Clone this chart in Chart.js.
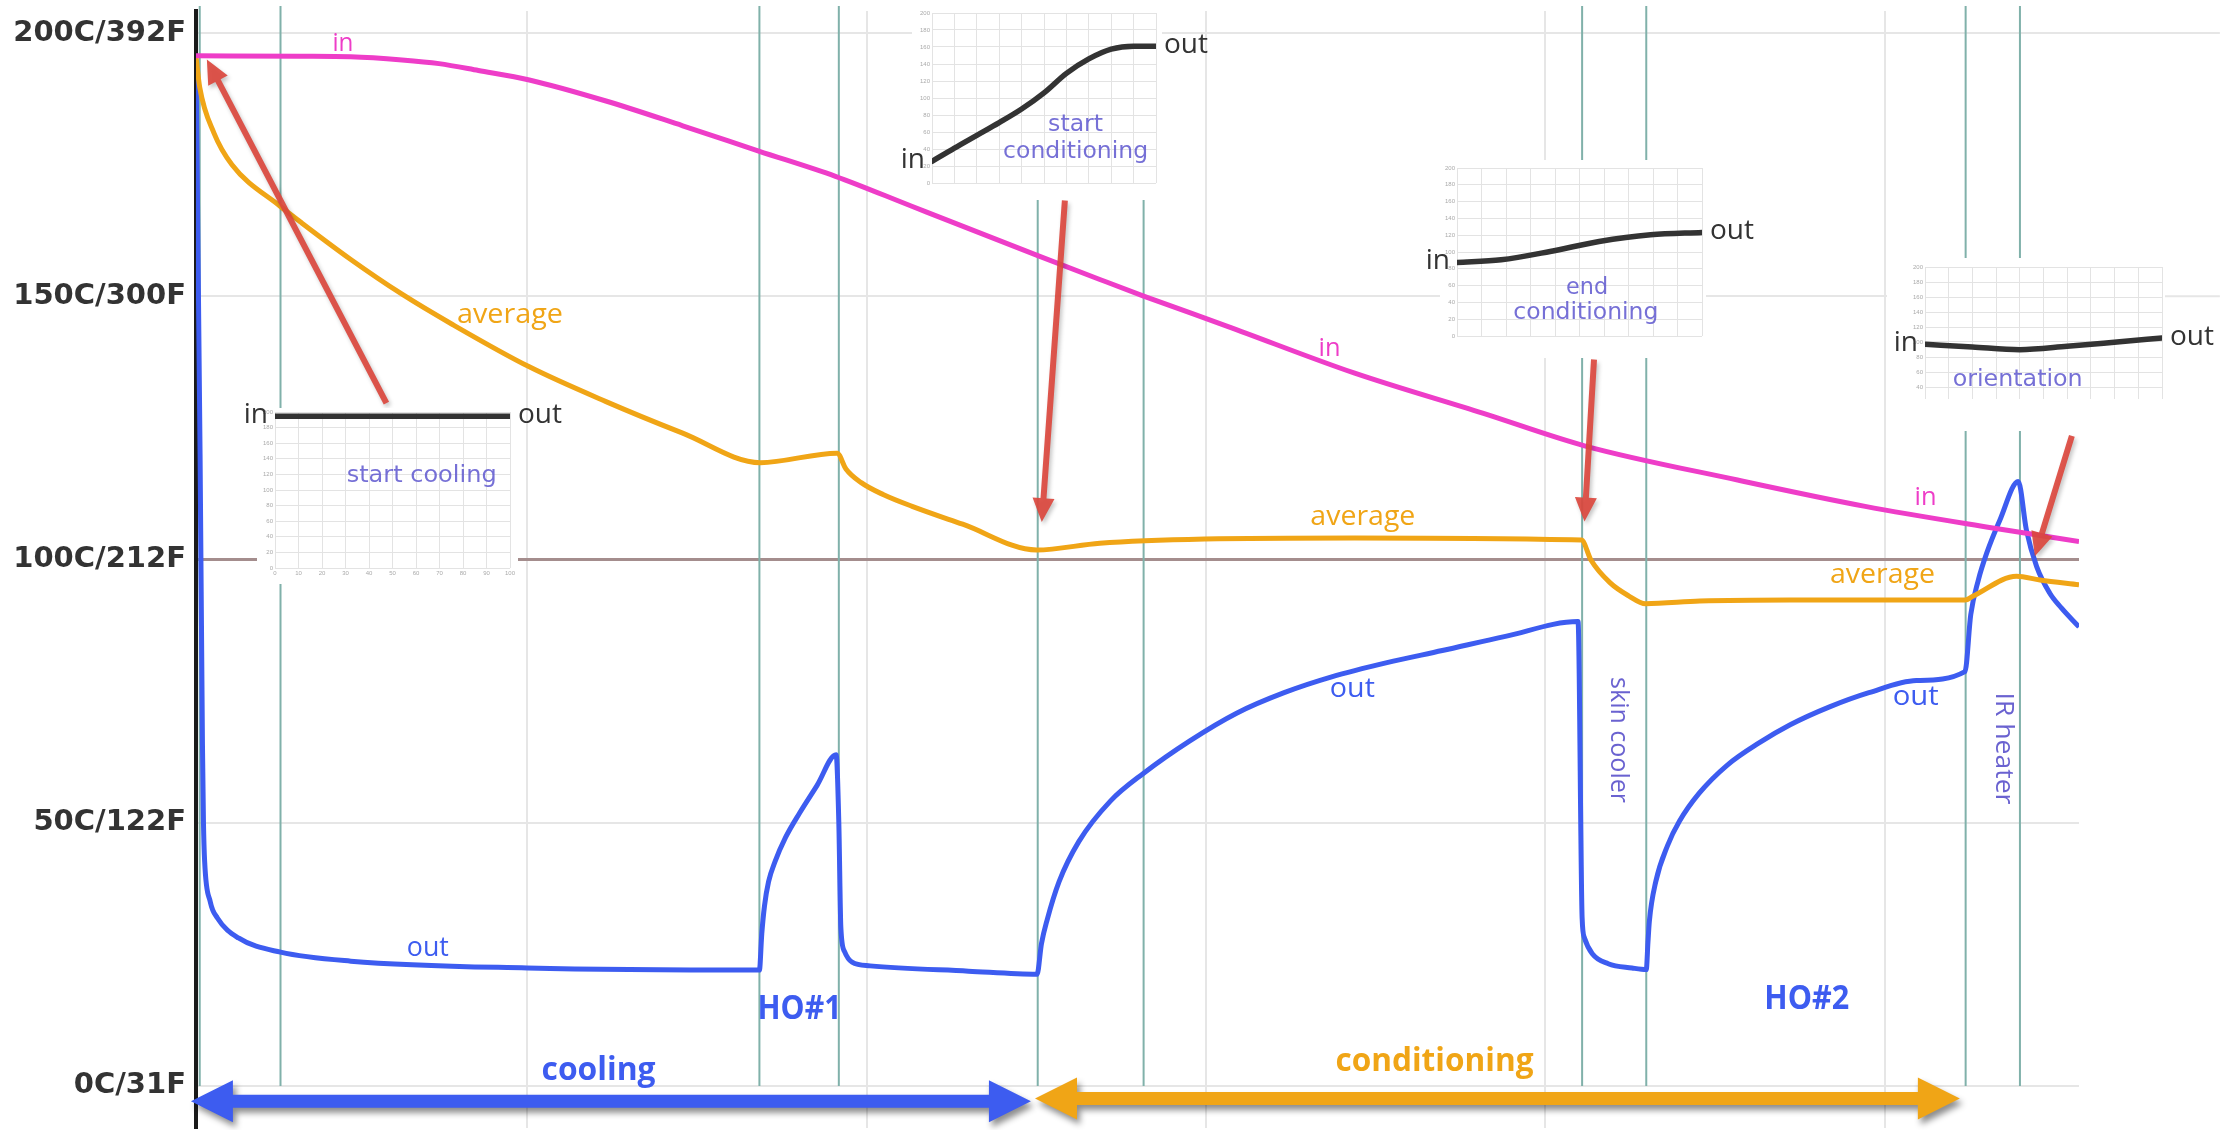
<!DOCTYPE html>
<html><head><meta charset="utf-8">
<script src="https://cdn.jsdelivr.net/npm/chart.js@4.4.1/dist/chart.umd.min.js"></script>
<style>
html,body{margin:0;padding:0;background:#fff;}
#wrap{position:relative;width:2239px;height:1130px;overflow:hidden;background:#fff;}
#main{position:absolute;left:0;top:0;}
.inset{position:absolute;}
</style></head><body>
<div id="wrap">
<canvas id="main" width="2239" height="1130"></canvas>
<canvas id="ins1" class="inset"></canvas>
<canvas id="ins2" class="inset"></canvas>
<canvas id="ins3" class="inset"></canvas>
<canvas id="ins4" class="inset"></canvas>
</div>
<script>
// ---------- data ----------
const yTickValues = [0, 50, 100, 150, 200];
const yTickLabels = ["0C/31F", "50C/122F", "100C/212F", "150C/300F", "200C/392F"];
const xGridValues = [100, 200, 300, 400, 500];
const eventLines = [3.5, 27.3, 168.4, 191.8, 250.4, 281.6, 410.8, 429.7, 523.8, 539.8];

const inX    = [2.4, 33, 48, 63.1, 74, 85.6, 100.6, 123.2, 145.8, 168.2, 190.8, 213.3, 251, 268.7, 281.8, 306.3, 343.8, 381.5, 411.5, 456.6, 494.2, 531.8, 557.2];
const inTemp = [195.7, 195.6, 195.5, 194.9, 194.2, 192.9, 191.1, 187.1, 182.4, 177.6, 172.8, 167.1, 157.6, 153.2, 150.0, 144.3, 135.4, 127.8, 121.6, 115.1, 110.1, 106.0, 103.4];

const avgX    = [2.4, 3.5, 7.7, 13, 27.2, 33, 48, 63.1, 78.1, 100.6, 123.2, 145.8, 168.7, 191.3, 193.9, 198.4, 205, 213.4, 228.3, 250.1, 268.7, 299.6, 343.8, 410.6, 413.4, 419, 424.5, 429.5, 445.5, 472, 523.7, 525.9, 538.8, 545.7, 557.2];
const avgTemp = [195.5, 189.7, 181, 175, 167.1, 164.2, 157, 150.4, 144.6, 136.6, 130, 124.0, 118.4, 120.2, 117.2, 114.6, 112.3, 110.1, 106.7, 101.8, 103.1, 103.9, 104.1, 103.7, 99.9, 95.6, 93.1, 91.6, 92.1, 92.3, 92.3, 93, 96.8, 96.1, 95.2];

const outX    = [2.4, 3.6, 4.3, 4.6, 4.95, 6.6, 8.7, 14.9, 27.3, 48, 100, 168.4,
                 169.1, 169.9, 171.1, 173, 176.1, 180.2, 185.4, 191, 191.8, 192.4, 193.5, 195.7, 201, 230, 250.2,
                 251.5, 253.2, 256.7, 262.5, 271.8, 281.6, 295.1, 309, 323, 337, 353.3, 369.6, 388.2, 409.6,
                 410.8, 411.5, 413.8, 418.5, 425.5, 429.7,
                 430.2, 430.6, 432.5, 436, 439.5, 445.3, 453.5, 462.8, 472.1, 483.7, 495.3, 509.3, 523.6,
                 525.3, 527.5, 530, 533.9, 539.3, 541.7, 544.7, 548.6, 552, 557.2];
const outTemp = [195, 120, 65, 50, 42.6, 35, 31.9, 28.1, 25.4, 23.7, 22.4, 22.0,
                 28.9, 34.2, 38.8, 42.6, 47.2, 51.8, 57.1, 62.9, 50, 30, 25.5, 23.5, 22.8, 21.8, 21.2,
                 27, 31.6, 38.8, 46.4, 54.1, 59.4, 65.5, 70.8, 74.7, 77.7, 80.4, 82.7, 85.4, 88.2,
                 31.9, 28.1, 25.1, 23.2, 22.4, 22.1,
                 27.3, 31.2, 38.8, 45.7, 50.3, 55.6, 60.9, 65.1, 68.6, 72, 74.7, 77, 78.7,
                 89.5, 96, 101.2, 107.5, 114.8, 105.6, 98.7, 93.6, 90.8, 87.2];

// mini profile charts (position across the sheet 0..100, temperature)
const coolProfX = [0, 100];
const coolProfY = [194.4, 194.4];
const startCondX = [0, 10, 20, 30, 40, 50, 60, 70, 80, 90, 100];
const startCondY = [25.4, 41, 56, 71, 87, 106, 129, 146, 157.5, 161, 161];
const endCondX = [0, 18, 38, 58, 79, 100];
const endCondY = [87.5, 90.7, 100.6, 112.5, 120.5, 123.3];
const orientX = [0, 20, 40, 60, 81, 100];
const orientY = [96.9, 93.3, 89.8, 94.3, 100, 105.3];

// ---------- styles / annotations ----------
const PINK = '#EE3DC8', ORANGE = '#F0A516', BLUE = '#3D5CF0', PURPLE = 'rgba(80,70,200,0.85)';
const gridExtendTo = 598.7;
const textLabels = [
  {t:'in', x:45.7, y:196.6, size:26, w:21, c:PINK},
  {t:'average', x:94.9, y:144.9, size:28, w:106, c:ORANGE},
  {t:'in', x:336.4, y:138.6, size:26, w:22, c:PINK},
  {t:'average', x:346.2, y:106.6, size:28, w:105, c:ORANGE},
  {t:'out', x:70.7, y:24.7, size:28, w:42, c:BLUE},
  {t:'out', x:343.1, y:73.8, size:28, w:45, c:BLUE},
  {t:'in', x:512, y:110.4, size:26, w:22, c:PINK},
  {t:'average', x:499.3, y:95.5, size:28, w:105, c:ORANGE},
  {t:'out', x:509.1, y:72.4, size:28, w:46, c:BLUE},
  {t:'HO#1', x:180.2, y:12.8, size:34, w:84, c:BLUE, bold:true},
  {t:'HO#2', x:477, y:14.7, size:34, w:85, c:BLUE, bold:true},
  {t:'cooling', x:121, y:1.1, size:32, w:114, c:BLUE, bold:true},
  {t:'conditioning', x:367.3, y:2.9, size:32, w:198, c:ORANGE, bold:true}
];
const rotLabels = [
  {t:'skin cooler', x:421.3, y:65.7, size:25, w:126, c:PURPLE},
  {t:'IR heater', x:535, y:64.1, size:26, w:112, c:PURPLE}
];
const redArrows = [
  {x1:58.5, y1:129.7, x2:5.6, y2:195},
  {x1:258.4, y1:168.2, x2:251.6, y2:107.1},
  {x1:414.3, y1:138, x2:411.5, y2:107.2},
  {x1:555.1, y1:123.5, x2:544.2, y2:100.6}
];
const phaseArrows = [
  {x1:0.9, x2:248.4, y:-2.9, c:BLUE},
  {x1:249.6, x2:522.1, y:-2.4, c:ORANGE}
];

function toPts(xs, ys){ return xs.map((x,i)=>({x:x, y:ys[i]})); }

function fitText(ctx, t, x, y, font, color, w, baseline, rot){
  ctx.save();
  ctx.font = font; ctx.fillStyle = color; ctx.textAlign = 'center'; ctx.textBaseline = baseline || 'alphabetic';
  ctx.translate(x, y); if (rot) ctx.rotate(rot);
  const m = ctx.measureText(t).width;
  if (w && m > 0) ctx.scale(w / m, 1);
  ctx.fillText(t, 0, 0);
  ctx.restore();
}

function singleArrow(ctx, x1, y1, x2, y2, lw, hl, hw){
  const ang = Math.atan2(y2 - y1, x2 - x1), len = Math.hypot(x2 - x1, y2 - y1);
  ctx.save(); ctx.translate(x1, y1); ctx.rotate(ang);
  ctx.beginPath();
  ctx.moveTo(0, -lw/2); ctx.lineTo(len - hl, -lw/2); ctx.lineTo(len - hl, -hw/2);
  ctx.lineTo(len, 0); ctx.lineTo(len - hl, hw/2); ctx.lineTo(len - hl, lw/2); ctx.lineTo(0, lw/2);
  ctx.closePath(); ctx.fill(); ctx.restore();
}
function doubleArrow(ctx, x1, x2, yc, lw, hl, hw){
  ctx.beginPath();
  ctx.moveTo(x1, yc); ctx.lineTo(x1 + hl, yc - hw/2); ctx.lineTo(x1 + hl, yc - lw/2);
  ctx.lineTo(x2 - hl, yc - lw/2); ctx.lineTo(x2 - hl, yc - hw/2); ctx.lineTo(x2, yc);
  ctx.lineTo(x2 - hl, yc + hw/2); ctx.lineTo(x2 - hl, yc + lw/2); ctx.lineTo(x1 + hl, yc + lw/2);
  ctx.lineTo(x1 + hl, yc + hw/2); ctx.closePath(); ctx.fill();
}

const annotPlugin = {
  id: 'annot',
  beforeDatasetsDraw(chart){
    const {ctx, chartArea:a, scales:{x, y}} = chart;
    ctx.save();
    ctx.strokeStyle = '#e6e6e6'; ctx.lineWidth = 2;
    [150, 200].forEach(v => {
      const py = y.getPixelForValue(v);
      ctx.beginPath(); ctx.moveTo(a.right, py); ctx.lineTo(x.getPixelForValue(gridExtendTo), py); ctx.stroke();
    });
    ctx.strokeStyle = '#80b1aa'; ctx.lineWidth = 2;
    const y0 = y.getPixelForValue(0);
    eventLines.forEach(ev => {
      const px = x.getPixelForValue(ev);
      ctx.beginPath(); ctx.moveTo(px, a.top - 5); ctx.lineTo(px, y0); ctx.stroke();
    });
    ctx.restore();
  },
  afterDraw(chart){
    const {ctx, scales:{x, y}} = chart;
    const ff = '"Open Sans", sans-serif';
    textLabels.forEach(l => {
      fitText(ctx, l.t, x.getPixelForValue(l.x), y.getPixelForValue(l.y),
        (l.bold ? 'bold ' : '') + l.size + 'px ' + ff, l.c, l.w, 'alphabetic', 0);
    });
    rotLabels.forEach(l => {
      fitText(ctx, l.t, x.getPixelForValue(l.x), y.getPixelForValue(l.y), l.size + 'px ' + ff, l.c, l.w, 'middle', Math.PI/2);
    });
    ctx.save();
    ctx.shadowColor = 'rgba(0,0,0,0.45)'; ctx.shadowBlur = 6; ctx.shadowOffsetX = 3; ctx.shadowOffsetY = 5;
    phaseArrows.forEach(p => {
      ctx.fillStyle = p.c;
      doubleArrow(ctx, x.getPixelForValue(p.x1), x.getPixelForValue(p.x2), y.getPixelForValue(p.y), 13, 42, 42);
    });
    ctx.restore();
    ctx.save();
    ctx.shadowColor = 'rgba(0,0,0,0.25)'; ctx.shadowBlur = 4; ctx.shadowOffsetX = 2; ctx.shadowOffsetY = 3;
    ctx.fillStyle = 'rgba(219,72,62,0.92)';
    redArrows.forEach(r => {
      singleArrow(ctx, x.getPixelForValue(r.x1), y.getPixelForValue(r.y1), x.getPixelForValue(r.x2), y.getPixelForValue(r.y2), 6, 24, 22);
    });
    ctx.restore();
  }
};

new Chart(document.getElementById('main'), {
  type: 'line',
  data: { datasets: [
    {label:'in', data: toPts(inX, inTemp), borderColor: PINK, borderWidth: 5, pointRadius: 0, cubicInterpolationMode: 'monotone', fill: false},
    {label:'average', data: toPts(avgX, avgTemp), borderColor: ORANGE, borderWidth: 5, pointRadius: 0, cubicInterpolationMode: 'monotone', fill: false},
    {label:'out', data: toPts(outX, outTemp), borderColor: BLUE, borderWidth: 5, pointRadius: 0, cubicInterpolationMode: 'monotone', fill: false}
  ]},
  options: {
    responsive: false, animation: false, devicePixelRatio: 1,
    layout: { padding: { left: 0, right: 160, top: 11, bottom: 2 } },
    plugins: { legend: { display: false }, tooltip: { enabled: false } },
    scales: {
      x: { type: 'linear', min: 2.4, max: 557.2,
           afterBuildTicks: s => { s.ticks = xGridValues.map(v => ({value: v})); },
           ticks: { display: false },
           grid: { color: '#e6e6e6', lineWidth: 2, drawTicks: false },
           border: { display: false },
           afterFit: s => { s.height = 0; s.paddingLeft = 0; s.paddingRight = 0; s.paddingTop = 0; s.paddingBottom = 0; } },
      y: { type: 'linear', min: -8, max: 204.2,
           afterBuildTicks: s => { s.ticks = yTickValues.map(v => ({value: v})); },
           ticks: { callback: v => { const i = yTickValues.indexOf(v); return i >= 0 ? yTickLabels[i] : ''; },
                    font: { family: '"DejaVu Sans", sans-serif', weight: 'bold', size: 29 }, color: '#333', padding: 10 },
           grid: { color: c => (c.tick && c.tick.value === 100) ? '#a48d8d' : '#e6e6e6',
                   lineWidth: c => (c.tick && c.tick.value === 100) ? 3 : 2, drawTicks: false },
           border: { display: true, color: '#1a1a1a', width: 4 },
           afterFit: s => { s.width = 196; s.paddingTop = 0; s.paddingBottom = 0; s.paddingLeft = 0; s.paddingRight = 0; } }
    }
  },
  plugins: [annotPlugin]
});

// ---------- inset mini charts ----------
const insetSpecs = [
  {id:'ins1', gl:275, gr:510, gt:412.3, gb:568.3, ymin:0, xs:coolProfX, ys:coolProfY, xLabels:true,
   m:{l:18, r:8, t:4, b:16}, texts:[{t:'start cooling', x:62.4, y:117.4, w:150}]},
  {id:'ins2', gl:931.7, gr:1156, gt:13.3, gb:183.3, ymin:0, xs:startCondX, ys:startCondY, xLabels:false,
   m:{l:20, r:6, t:13, b:17}, texts:[{t:'start', x:64.1, y:68.6, w:55}, {t:'conditioning', x:64.1, y:36.8, w:145}]},
  {id:'ins3', gl:1456.7, gr:1701.7, gt:168.3, gb:336, ymin:0, xs:endCondX, ys:endCondY, xLabels:false,
   m:{l:17, r:4, t:8, b:22}, texts:[{t:'end', x:53.1, y:56.9, w:42}, {t:'conditioning', x:52.6, y:27.4, w:145}]},
  {id:'ins4', gl:1925, gr:2162, gt:266.7, gb:398.7, ymin:24, xs:orientX, ys:orientY, xLabels:false,
   m:{l:38, r:3, t:9, b:32}, texts:[{t:'orientation', x:39.1, y:48.9, w:130}]}
];

function makeInset(sp){
  const padL = 60, padT = 12, padR = 70, padB = 36, yW = 12, xH = 12;
  const W = Math.round(sp.gr - sp.gl + padL + padR), H = Math.round(sp.gb - sp.gt + padT + padB);
  const cv = document.getElementById(sp.id);
  cv.width = W; cv.height = H;
  cv.style.left = (sp.gl - padL) + 'px'; cv.style.top = (sp.gt - padT) + 'px';
  const plug = {
    id: 'insetDeco',
    beforeDraw(chart){
      const {ctx, chartArea:a} = chart;
      ctx.save(); ctx.fillStyle = '#fff';
      ctx.fillRect(a.left - sp.m.l, a.top - sp.m.t, (a.right - a.left) + sp.m.l + sp.m.r, (a.bottom - a.top) + sp.m.t + sp.m.b);
      ctx.restore();
    },
    afterDraw(chart){
      const {ctx, chartArea:a, scales:{x, y}} = chart;
      ctx.save();
      ctx.font = '28px "Open Sans", sans-serif'; ctx.fillStyle = '#333'; ctx.textBaseline = 'middle';
      ctx.textAlign = 'right';
      ctx.fillText('in', a.left - 7, y.getPixelForValue(sp.ys[0]) - 1);
      ctx.textAlign = 'left';
      ctx.fillText('out', a.right + 8, y.getPixelForValue(sp.ys[sp.ys.length - 1]) - 1);
      ctx.restore();
      sp.texts.forEach(t => fitText(ctx, t.t, x.getPixelForValue(t.x), y.getPixelForValue(t.y),
        '23px "DejaVu Sans", sans-serif', 'rgba(88,80,205,0.82)', t.w, 'middle', 0));
    }
  };
  const zeroPad = s => { s.paddingTop = 0; s.paddingBottom = 0; s.paddingLeft = 0; s.paddingRight = 0; };
  new Chart(cv, {
    type: 'line',
    data: { datasets: [{ data: toPts(sp.xs, sp.ys), borderColor: '#333', borderWidth: 5.5, pointRadius: 0,
                         cubicInterpolationMode: 'monotone', borderCapStyle: 'round', fill: false }] },
    options: {
      responsive: false, animation: false, devicePixelRatio: 1,
      layout: { padding: { left: padL - yW, top: padT, right: padR, bottom: padB - xH } },
      plugins: { legend: { display: false }, tooltip: { enabled: false } },
      scales: {
        x: { type: 'linear', min: 0, max: 100,
             afterBuildTicks: s => { const t = []; for (let v = 0; v <= 100; v += 10) t.push({value: v}); s.ticks = t; },
             ticks: { display: sp.xLabels, font: { size: 6 }, color: '#aaa', padding: 2, maxRotation: 0 },
             grid: { color: '#e3e3e3', lineWidth: 1, drawTicks: false }, border: { display: false },
             afterFit: s => { s.height = xH; zeroPad(s); } },
        y: { type: 'linear', min: sp.ymin, max: 200,
             afterBuildTicks: s => { const t = []; for (let v = 0; v <= 200; v += 20) if (v >= sp.ymin) t.push({value: v}); s.ticks = t; },
             ticks: { font: { size: 6 }, color: '#aaa', padding: 2 },
             grid: { color: '#e3e3e3', lineWidth: 1, drawTicks: false }, border: { display: false },
             afterFit: s => { s.width = yW; zeroPad(s); } }
      }
    },
    plugins: [plug]
  });
}
insetSpecs.forEach(makeInset);
</script>
</body></html>
